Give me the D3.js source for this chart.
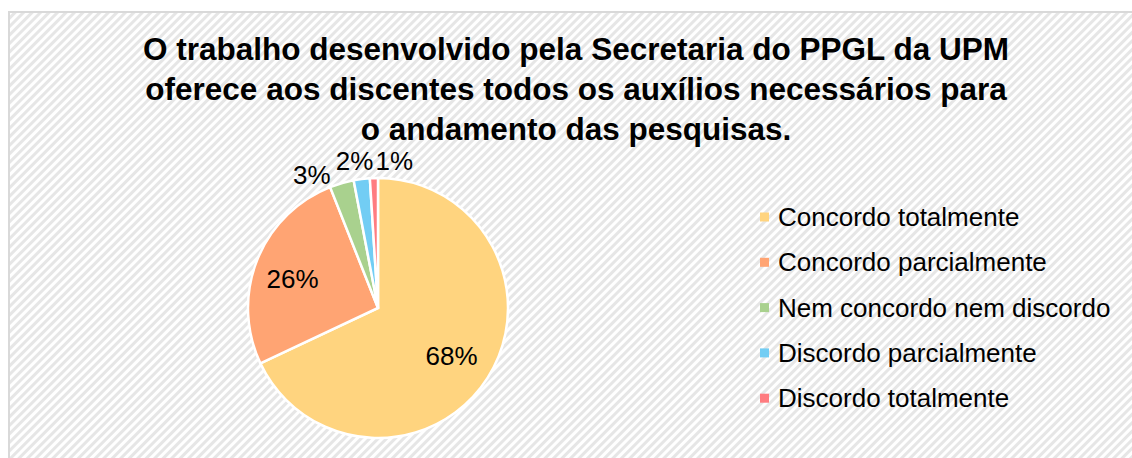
<!DOCTYPE html>
<meta charset="utf-8">
<style>
  body { margin: 0; background: #fff; }
  text { font-family: "Liberation Sans", Arial, sans-serif; fill: #000; }
</style>
<body>
<script src="https://d3js.org/d3.v7.min.js"></script>
<script>
  var categories = ["Concordo totalmente", "Concordo parcialmente", "Nem concordo nem discordo",
                    "Discordo parcialmente", "Discordo totalmente"];
  var values = [68, 26, 3, 2, 1];
  var colors = ["#ffd47f", "#ffa473", "#a9d18e", "#72cdf4", "#ff7c80"];
  var titleLines = ["O trabalho desenvolvido pela Secretaria do PPGL da UPM",
                    "oferece aos discentes todos os auxílios necessários para",
                    "o andamento das pesquisas."];

  var width = 1132, height = 458;

  var svg = d3.select("body").append("svg")
    .attr("width", width)
    .attr("height", height)

  // diagonal stripe background
  var pat = svg.append("defs").append("pattern")
    .attr("id", "stripes")
    .attr("patternUnits", "userSpaceOnUse")
    .attr("width", 6).attr("height", 6)
    .attr("patternTransform", "rotate(45)")
  pat.append("rect").attr("width", 6).attr("height", 6).attr("fill", "#fff")
  pat.append("rect").attr("width", 3).attr("height", 6).attr("fill", "#e6e6e6")

  svg.append("rect")
    .attr("x", 9).attr("y", 12)
    .attr("width", width).attr("height", height)
    .attr("fill", "url(#stripes)")
    .attr("stroke", "#d9d9d9")
    .attr("stroke-width", 2)

  // title
  svg.append("g").selectAll("text")
    .data(titleLines)
    .join("text")
    .attr("x", 576)
    .attr("y", function(d, i) { return 60 + i * 40 })
    .attr("text-anchor", "middle")
    .style("font-size", "31.5px")
    .style("font-weight", "bold")
    .text(function(d) { return d })

  // pie
  var cx = 378, cy = 308, r = 130;
  var pie = d3.pie().sort(null).value(function(d) { return d })
  var arcs = pie(values)
  var arc = d3.arc().innerRadius(0).outerRadius(r)

  var g = svg.append("g").attr("transform", "translate(" + cx + "," + cy + ")")
  g.selectAll("path")
    .data(arcs)
    .join("path")
    .attr("d", arc)
    .attr("fill", function(d, i) { return colors[i] })
    .attr("stroke", "#fff")
    .attr("stroke-width", 2.5)

  // labels: inside for big slices, outside for small ones
  var inArc = d3.arc().innerRadius(80).outerRadius(80)
  var outArc = d3.arc().innerRadius(r + 18).outerRadius(r + 18)
  var nudge = [[6, 5], [-11, 0], [-25, 9], [-5, 0], [21, 1]]
  g.selectAll("text")
    .data(arcs)
    .join("text")
    .attr("transform", function(d, i) {
      var p = values[i] > 10 ? inArc.centroid(d) : outArc.centroid(d)
      p[0] += nudge[i][0]; p[1] += nudge[i][1]
      return "translate(" + p[0] + "," + p[1] + ")"
    })
    .attr("text-anchor", "middle")
    .attr("dy", "0.35em")
    .style("font-size", "26px")
    .text(function(d, i) { return values[i] + "%" })

  // legend
  var legend = svg.append("g").attr("transform", "translate(760,217)")
  var row = legend.selectAll("g")
    .data(categories)
    .join("g")
    .attr("transform", function(d, i) { return "translate(0," + i * 45.3 + ")" })
  row.append("rect")
    .attr("x", 0).attr("y", -4.5)
    .attr("width", 9).attr("height", 9)
    .attr("fill", function(d, i) { return colors[i] })
  row.append("text")
    .attr("x", 18)
    .attr("dy", "0.35em")
    .style("font-size", "26px")
    .text(function(d) { return d })
</script>
</body>
